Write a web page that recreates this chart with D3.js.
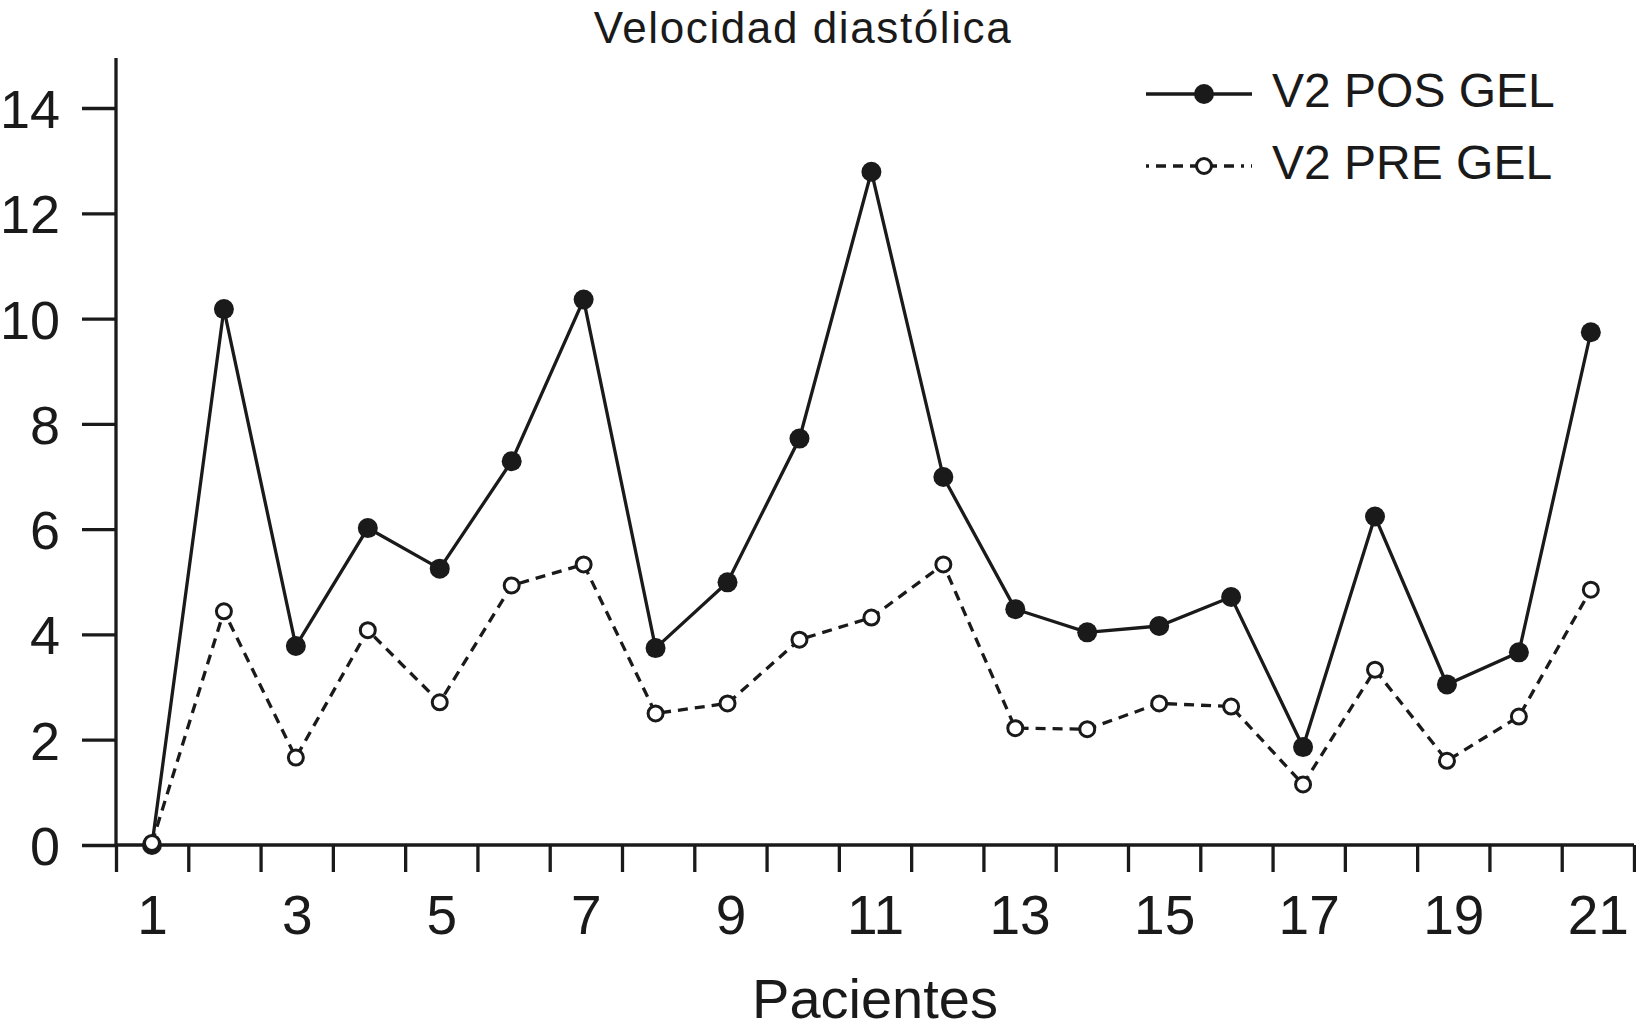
<!DOCTYPE html>
<html>
<head>
<meta charset="utf-8">
<script src="https://cdn.jsdelivr.net/npm/d3@7"></script>
<style>
    body { margin: 0; background: #fff; }
    text { font-family: "Liberation Sans", Arial, sans-serif; fill: #1a1a1a; }
</style>
</head>
<body>
<svg id="chart" width="1636" height="1036"></svg>
<script>
"use strict";

// Pacientes 1..21
const patients = d3.range(1, 22);
const xLabels = [1, 3, 5, 7, 9, 11, 13, 15, 17, 19, 21];
const yTicks = [0, 2, 4, 6, 8, 10, 12, 14];

// V2 POS GEL (filled)
const posGel = [0, 10.18, 3.78, 6.02, 5.25, 7.29, 10.36, 3.74, 4.99, 7.72, 12.79,
    6.99, 4.48, 4.04, 4.16, 4.71, 1.86, 6.24, 3.05, 3.66, 9.74];
// V2 PRE GEL (open)
const preGel = [0.04, 4.44, 1.66, 4.08, 2.71, 4.93, 5.33, 2.50, 2.69, 3.90, 4.32,
    5.33, 2.22, 2.20, 2.69, 2.63, 1.15, 3.33, 1.60, 2.44, 4.85];

const seriesNames = ["V2 POS GEL", "V2 PRE GEL"];

const ink = "#1a1a1a";
const svg = d3.select("#chart");

const plot = {left: 116, right: 1634, top: 58, bottom: 845};

// axis bands: ticks between patients, labels at the centre
const xAxisScale = d3.scaleLinear().domain([0.5, 21.5]).range([plot.left, plot.right]);
// data points drift slightly left of the band centres in the original
const xScale = d3.scaleLinear().domain([0.5, 21.6]).range([plot.left, plot.right]);
const yScale = d3.scaleLinear().domain([0, 14]).range([plot.bottom, 108]);

const series = [
    {name: seriesNames[0], values: posGel, dash: null, fill: ink, r: 10},
    {name: seriesNames[1], values: preGel, dash: "10,7", fill: "#fff", r: 7.5}
];

// y axis
const yAxis = d3.axisLeft(yScale)
    .tickValues(yTicks)
    .tickSize(34)
    .tickPadding(22)
    .tickFormat(d3.format("d"));
const gy = svg.append("g")
    .attr("transform", "translate(" + plot.left + ",0)")
    .call(yAxis);
gy.select(".domain").remove();
gy.selectAll("line").attr("stroke", ink).attr("stroke-width", 3.3);
gy.selectAll("text").attr("font-size", 54).attr("dy", "0.36em");
gy.append("line")
    .attr("x1", 0).attr("x2", 0)
    .attr("y1", plot.bottom).attr("y2", plot.top)
    .attr("stroke", ink).attr("stroke-width", 3.3);

// x axis: tick marks
const xTicks = d3.axisBottom(xAxisScale)
    .tickValues(d3.range(0.5, 22, 1))
    .tickSize(27)
    .tickFormat("");
const gx = svg.append("g")
    .attr("transform", "translate(0," + plot.bottom + ")")
    .call(xTicks);
gx.select(".domain").remove();
gx.selectAll("line").attr("stroke", ink).attr("stroke-width", 3.3);
gx.append("line")
    .attr("x1", plot.left).attr("x2", plot.right)
    .attr("y1", 0).attr("y2", 0)
    .attr("stroke", ink).attr("stroke-width", 3.3);

// x axis: labels
const xLab = d3.axisBottom(xAxisScale)
    .tickValues(xLabels)
    .tickSize(0)
    .tickPadding(50)
    .tickFormat(d3.format("d"));
const gxl = svg.append("g")
    .attr("transform", "translate(0," + plot.bottom + ")")
    .call(xLab);
gxl.select(".domain").remove();
gxl.selectAll("text").attr("font-size", 55);

// lines and markers
const line = d3.line()
    .x(function (d, i) { return xScale(patients[i]); })
    .y(function (d) { return yScale(d); });

series.forEach(function (s) {
    svg.append("path")
        .datum(s.values)
        .attr("fill", "none")
        .attr("stroke", ink)
        .attr("stroke-width", 3.3)
        .attr("stroke-dasharray", s.dash)
        .attr("d", line);
    svg.append("g")
        .selectAll("circle")
        .data(s.values)
        .join("circle")
        .attr("cx", function (d, i) { return xScale(patients[i]); })
        .attr("cy", function (d) { return yScale(d); })
        .attr("r", s.r)
        .attr("fill", s.fill)
        .attr("stroke", ink)
        .attr("stroke-width", s.fill === ink ? 0 : 3);
});

// title
svg.append("text")
    .attr("x", 803)
    .attr("y", 43)
    .attr("text-anchor", "middle")
    .attr("font-size", 44)
    .attr("letter-spacing", 1.6)
    .text("Velocidad diastólica");

// axis title
svg.append("text")
    .attr("x", 875)
    .attr("y", 1018)
    .attr("text-anchor", "middle")
    .attr("font-size", 56)
    .text("Pacientes");

// legend
const legend = svg.append("g").attr("transform", "translate(1146,94)");
series.forEach(function (s, i) {
    const row = legend.append("g").attr("transform", "translate(0," + (i * 72) + ")");
    row.append("line")
        .attr("x1", 0).attr("x2", 106)
        .attr("y1", 0).attr("y2", 0)
        .attr("stroke", ink)
        .attr("stroke-width", 3.3)
        .attr("stroke-dasharray", s.dash ? "3,7,10,7,10,7,10,7,10,7,10,7" : null);
    row.append("circle")
        .attr("cx", 58).attr("cy", 0)
        .attr("r", s.r)
        .attr("fill", s.fill)
        .attr("stroke", ink)
        .attr("stroke-width", s.fill === ink ? 0 : 3);
    row.append("text")
        .attr("x", 126)
        .attr("y", 13)
        .attr("font-size", 48)
        .text(s.name);
});
</script>
</body>
</html>
